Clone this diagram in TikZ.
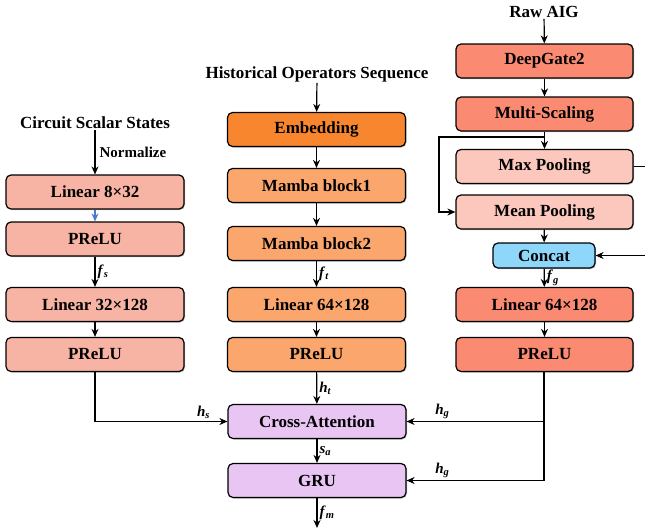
\documentclass[tikz,border=0pt]{standalone}
\usepackage{fontspec}
\setmainfont{Liberation Serif}
\usetikzlibrary{arrows.meta,shadows}
\definecolor{cLeft}{HTML}{F7B4A4}
\definecolor{cEmb}{HTML}{F7862E}
\definecolor{cMid}{HTML}{FBA66C}
\definecolor{cRight}{HTML}{FA8A71}
\definecolor{cPool}{HTML}{FCC7BC}
\definecolor{cCat}{HTML}{8ED6FA}
\definecolor{cPur}{HTML}{E8C5F2}
\definecolor{cBlue}{HTML}{4A7BC8}
\newcommand{\lab}[2]{\textbf{\textit{#1}}\textsubscript{\textbf{\textit{#2}}}}
\tikzset{
  blk/.style={draw, line width=1.2pt, rounded corners=5pt, minimum width=178pt, minimum height=34pt,
    font=\fontsize{17}{19}\selectfont\bfseries, inner sep=0pt,
    drop shadow={shadow xshift=1pt, shadow yshift=-1pt, fill=black!45, opacity=0.6}},
  ttl/.style={font=\fontsize{17}{19}\selectfont\bfseries, inner sep=1pt},
  sml/.style={font=\fontsize{15}{17}\selectfont\bfseries, inner sep=2pt},
  lbl/.style={font=\fontsize{15}{17}\selectfont, inner sep=2pt},
  arr/.style={line width=1.2pt, -{Stealth[length=8pt,width=7pt]}},
  ln/.style={line width=1.2pt}
}
\begin{document}
\begin{tikzpicture}[x=1pt,y=-1pt]
\clip (0,0) rectangle (645,531);
\fill[white] (0,0) rectangle (645,531);
% left column
\node[ttl] (cs) at (95,123) {Circuit Scalar States};
\node[blk, fill=cLeft] (l1) at (95,192) {Linear 8×32};
\node[blk, fill=cLeft] (l2) at (95,239) {PReLU};
\node[blk, fill=cLeft] (l3) at (95,304.5) {Linear 32×128};
\node[blk, fill=cLeft] (l4) at (95,354.5) {PReLU};
% middle column
\node[ttl] (hs) at (317,74) {Historical Operators Sequence};
\node[blk, fill=cEmb] (m0) at (316.5,129.5) {Embedding};
\node[blk, fill=cMid] (m1) at (316.5,185.5) {Mamba block1};
\node[blk, fill=cMid] (m2) at (316.5,243.5) {Mamba block2};
\node[blk, fill=cMid] (m3) at (316.5,304.5) {Linear 64×128};
\node[blk, fill=cMid] (m4) at (316.5,354.5) {PReLU};
\node[blk, fill=cPur] (ca) at (317,421.5) {Cross-Attention};
\node[blk, fill=cPur] (gru) at (317,480.5) {GRU};
\coordinate (out) at (317,528);
% right column
\node[ttl] (raw) at (544,12) {Raw AIG};
\node[blk, fill=cRight, minimum width=177pt] (r1) at (544.5,61) {DeepGate2};
\node[blk, fill=cRight, minimum width=177pt] (r2) at (544.5,114) {Multi-Scaling};
\node[blk, fill=cPool, minimum width=177pt] (mp) at (544.5,166.5) {Max Pooling};
\node[blk, fill=cPool, minimum width=177pt] (mn) at (544.5,212) {Mean Pooling};
\node[blk, fill=cCat, minimum width=102pt, minimum height=25pt] (cat) at (544,255.5) {Concat};
\node[blk, fill=cRight, minimum width=177pt] (r3) at (544.5,304.5) {Linear 64×128};
\node[blk, fill=cRight, minimum width=177pt] (r4) at (544.5,354.5) {PReLU};
% coordinates
\coordinate (sp) at (544.5,137);
\coordinate (spl) at (439,137);
\coordinate (spd) at (439,212);
\coordinate (e1) at (660,166.5);
\coordinate (e2) at (660,255.5);
\coordinate (lb) at (95,421.5);
\coordinate (rb1) at (544,421.5);
\coordinate (rb2) at (544,480.5);
% left arrows
\draw[arr] (cs) -- node[sml, right, xshift=2pt]{Normalize} (l1);
\draw[line width=1.2pt, cBlue, -{Stealth[length=8pt,width=7pt]}] (l1) -- (l2);
\draw[arr] (l2) -- node[lbl, right]{\lab{f}{s}} (l3);
\draw[arr] (l3) -- (l4);
\draw[arr] (l4.south) -- (lb) -- node[lbl, above, pos=0.82]{\lab{h}{s}} (ca.west);
% middle arrows
\draw[arr] (hs) -- (m0);
\draw[arr] (m0) -- (m1);
\draw[arr] (m1) -- (m2);
\draw[arr] (m2) -- node[lbl, right]{\lab{f}{t}} (m3);
\draw[arr] (m3) -- (m4);
\draw[arr] (m4) -- node[lbl, right]{\lab{h}{t}} (ca);
\draw[arr] (ca) -- node[lbl, right]{\lab{s}{a}} (gru);
\draw[arr] (gru) -- node[lbl, right]{\lab{f}{m}} (out);
% right arrows
\draw[arr] (raw) -- (r1);
\draw[arr] (r1) -- (r2);
\draw[arr] (r2) -- (mp);
\draw[arr] (sp) -- (spl) -- (spd) -- (mn.west);
\draw[arr] (mn) -- (cat);
\draw[ln] (mp.east) -- (e1) -- (e2);
\draw[arr] (e2) -- (cat.east);
\draw[arr] (cat) -- node[lbl, right]{\lab{f}{g}} (r3);
\draw[arr] (r3) -- (r4);
\draw[ln] (r4.south -| rb1) -- (rb2);
\draw[arr] (rb1) -- node[lbl, above, pos=0.74]{\lab{h}{g}} (ca.east);
\draw[arr] (rb2) -- node[lbl, above, pos=0.74]{\lab{h}{g}} (gru.east);
\end{tikzpicture}
\end{document}
